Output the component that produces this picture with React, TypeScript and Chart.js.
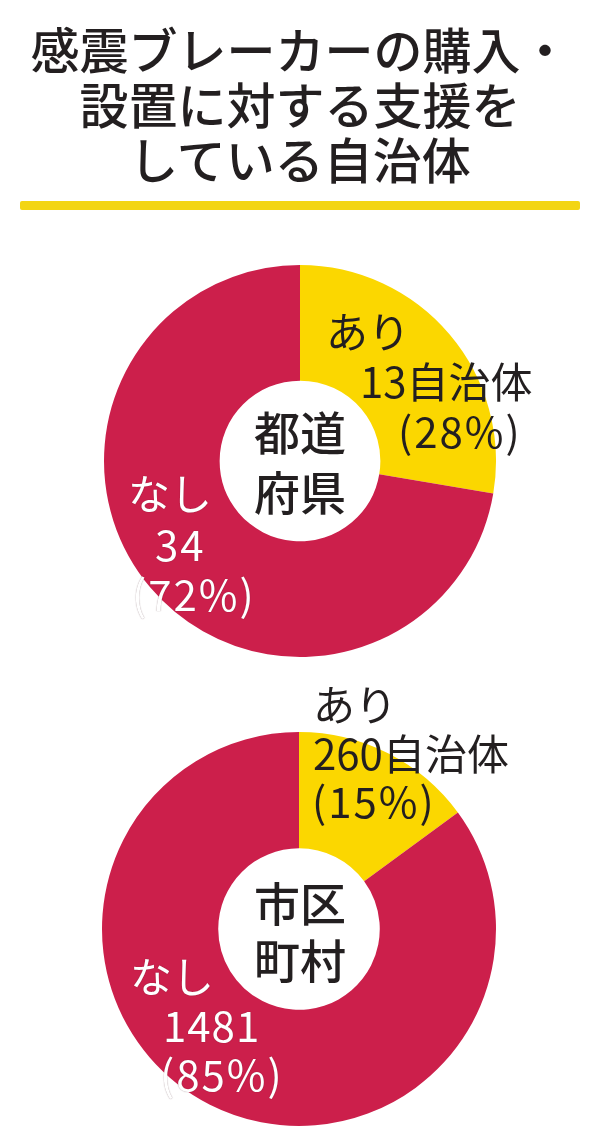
import React, { useEffect, useRef } from "react";
import { Chart, registerables } from "chart.js";

Chart.register(...registerables);

const titleLines = ["感震ブレーカーの購入・", "設置に対する支援を", "している自治体"];
const categories = ["あり", "なし"];
const prefValues = [13, 34];
const prefPercents = ["(28%)", "(72%)"];
const prefCenter = ["都道", "府県"];
const muniValues = [260, 1481];
const muniPercents = ["(15%)", "(85%)"];
const muniCenter = ["市区", "町村"];
const sliceColors = ["#fbd700", "#cc1f4b"];

const FONT = '"Noto Sans CJK JP", "Noto Sans", sans-serif';

function Donut({ values, left, top, size, pad }: { values: number[]; left: number; top: number; size: number; pad: number }) {
  const ref = useRef<HTMLCanvasElement | null>(null);
  useEffect(() => {
    if (!ref.current) return;
    const chart = new Chart(ref.current, {
      type: "doughnut",
      data: {
        labels: categories,
        datasets: [
          {
            data: values,
            backgroundColor: sliceColors,
            borderWidth: 0,
          },
        ],
      },
      options: {
        animation: false,
        responsive: false,
        cutout: "41%",
        layout: { padding: pad },
        plugins: { legend: { display: false }, tooltip: { enabled: false } },
      },
    });
    return () => chart.destroy();
  }, []);
  return (
    <canvas
      ref={ref}
      width={size}
      height={size}
      style={{ position: "absolute", left, top, width: size, height: size }}
    />
  );
}

function Label({ text, x, y, color, size = 42, weight = 400, center = false, spacing = 0 }: any) {
  const white = color === "#fff";
  return (
    <div
      style={{
        position: "absolute",
        left: center ? x - 300 : x,
        top: y - size * 0.7,
        width: center ? 600 : undefined,
        textAlign: center ? "center" : "left",
        fontSize: size,
        lineHeight: `${size * 1.4}px`,
        fontWeight: weight,
        letterSpacing: spacing,
        color,
        whiteSpace: "nowrap",
        fontFamily: FONT,
        textShadow: white ? "0 0 1px rgba(60,20,30,0.55)" : undefined,
      }}
    >
      {text}
    </div>
  );
}

export default function App() {
  useEffect(() => {
    document.body.style.margin = "0";
  }, []);
  const dark = "#231f20";
  return (
    <div style={{ position: "relative", width: 600, height: 1147, background: "#fff", overflow: "hidden", fontFamily: FONT }}>
      {titleLines.map((t, i) => (
        <Label key={i} text={t} x={300} y={48 + i * 55} color={dark} size={49} weight={500} center />
      ))}
      <div style={{ position: "absolute", left: 20, top: 201, width: 560, height: 9, background: "#f3d513", borderRadius: 2 }} />

      <Donut values={prefValues} left={100} top={261} size={400} pad={4} />
      <Label text={prefCenter[0]} x={300} y={430} color={dark} size={46} weight={500} center />
      <Label text={prefCenter[1]} x={300} y={490} color={dark} size={46} weight={500} center />
      <Label text={categories[0]} x={326} y={330} color={dark} />
      <Label text={`${prefValues[0]}自治体`} x={360} y={380} color={dark} />
      <Label text={prefPercents[0]} x={398} y={430} color={dark} spacing={2} />
      <Label text={categories[1]} x={128} y={492} color="#fff" />
      <Label text={`${prefValues[1]}`} x={155} y={543} color="#fff" spacing={2} />
      <Label text={prefPercents[1]} x={132} y={593} color="#fff" spacing={2} />

      <Donut values={muniValues} left={99} top={729} size={400} pad={3} />
      <Label text={muniCenter[0]} x={300} y={901} color={dark} size={46} weight={500} center />
      <Label text={muniCenter[1]} x={300} y={958} color={dark} size={46} weight={500} center />
      <Label text={categories[0]} x={313} y={703} color={dark} />
      <Label text={`${muniValues[0]}自治体`} x={313} y={752} color={dark} />
      <Label text={muniPercents[0]} x={312} y={800} color={dark} spacing={2} />
      <Label text={categories[1]} x={130} y={975} color="#fff" />
      <Label text={`${muniValues[1]}`} x={163} y={1024} color="#fff" spacing={1} />
      <Label text={muniPercents[1]} x={160} y={1073} color="#fff" spacing={2} />
    </div>
  );
}
